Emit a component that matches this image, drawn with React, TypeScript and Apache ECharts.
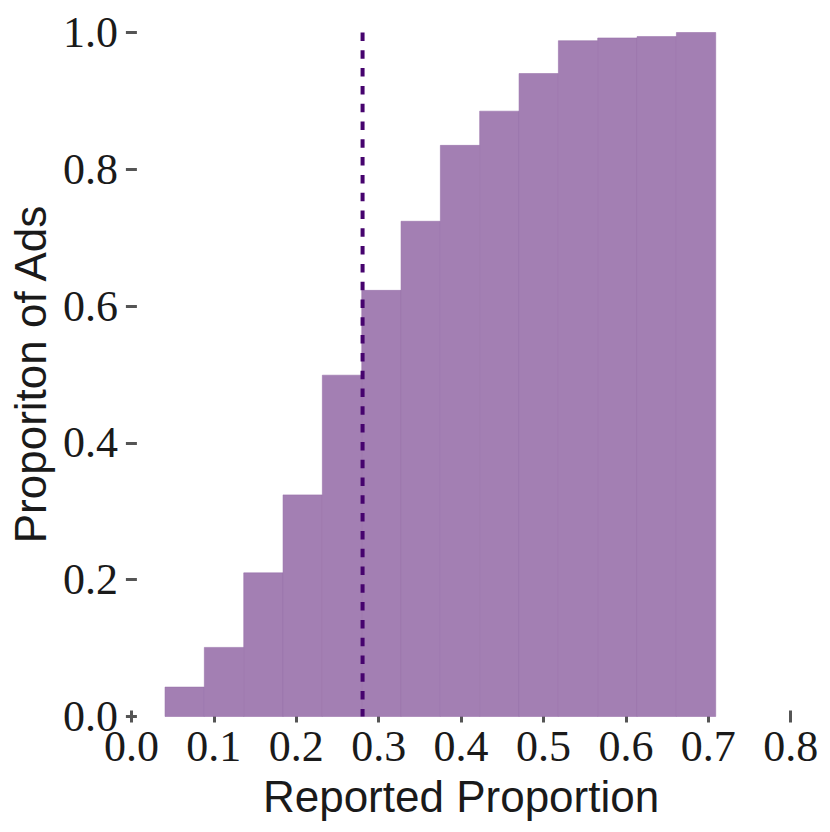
import React, { useEffect, useRef } from "react";
import * as echarts from "echarts";

// Histogram bin edges (Reported Proportion)
const binEdges: number[] = [
  0.0408, 0.0885, 0.1363, 0.184, 0.2317, 0.2795, 0.3272, 0.3749,
  0.4226, 0.4704, 0.5181, 0.5658, 0.6136, 0.6613, 0.709,
];
// Cumulative proportion of ads per bin
const cumulativeValues: number[] = [
  0.043, 0.101, 0.21, 0.324, 0.499, 0.623, 0.724, 0.835, 0.885, 0.94,
  0.988, 0.992, 0.994, 1.0,
];
// Reference (dashed) line position
const referenceX: number = 0.2805;

const xTicks = { min: 0, max: 0.8, interval: 0.1 };
const yTicks = { min: 0, max: 1, interval: 0.2 };

export default function App() {
  const ref = useRef<HTMLDivElement>(null);

  useEffect(() => {
    if (!ref.current) return;
    const chart = echarts.init(ref.current, null, { renderer: "svg" });
    const barData = cumulativeValues.map((v, i) => [binEdges[i], binEdges[i + 1], v]);

    const option: any = {
      animation: false,
      backgroundColor: "#ffffff",
      grid: { left: 127.5, right: 39.3, top: 32.5, bottom: 115.5, containLabel: false },
      xAxis: {
        type: "value",
        min: xTicks.min,
        max: xTicks.max,
        interval: xTicks.interval,
        offset: 6,
        axisLine: { show: false, onZero: false },
        splitLine: { show: false },
        axisTick: { show: true, inside: true, length: 12, lineStyle: { color: "#555555", width: 3 } },
        axisLabel: {
          margin: 2,
          fontFamily: "Liberation Serif",
          fontSize: 44,
          color: "#1a1a1a",
          formatter: (v: number) => v.toFixed(1),
        },
        name: "Reported Proportion",
        nameLocation: "middle",
        nameGap: 52,
        nameTextStyle: { fontFamily: "Liberation Sans", fontSize: 44, color: "#1a1a1a" },
      },
      yAxis: {
        type: "value",
        min: yTicks.min,
        max: yTicks.max,
        interval: yTicks.interval,
        offset: 5.5,
        axisLine: { show: false, onZero: false },
        splitLine: { show: false },
        axisTick: { show: true, inside: true, length: 11, lineStyle: { color: "#555555", width: 3 } },
        axisLabel: {
          margin: 8,
          fontFamily: "Liberation Serif",
          fontSize: 44,
          color: "#1a1a1a",
          padding: [0, 0, 10, 0],
          formatter: (v: number) => v.toFixed(1),
        },
        name: "Proporiton of Ads",
        nameLocation: "middle",
        nameGap: 73,
        nameTextStyle: { fontFamily: "Liberation Sans", fontSize: 44, color: "#1a1a1a" },
      },
      series: [
        {
          type: "custom",
          data: barData,
          encode: { x: [0, 1], y: 2 },
          renderItem: (params: any, api: any) => {
            const x0 = api.value(0);
            const x1 = api.value(1);
            const y = api.value(2);
            const p0 = api.coord([x0, y]);
            const p1 = api.coord([x1, 0]);
            return {
              type: "rect",
              shape: { x: p0[0], y: p0[1], width: p1[0] - p0[0], height: p1[1] - p0[1] },
              style: { fill: "#a37fb3", stroke: "rgba(150,112,168,0.7)", lineWidth: 0.8 },
            };
          },
          z: 2,
        },
        {
          type: "line",
          data: [
            [referenceX, yTicks.max],
            [referenceX, yTicks.min],
          ],
          symbol: "none",
          lineStyle: { color: "#46036e", width: 4, type: [8.5, 9.3] },
          z: 5,
        },
      ],
    };
    chart.setOption(option);
    return () => chart.dispose();
  }, []);

  return (
    <div
      ref={ref}
      style={{ position: "fixed", left: 0, top: 0, width: 830, height: 832 }}
    />
  );
}
